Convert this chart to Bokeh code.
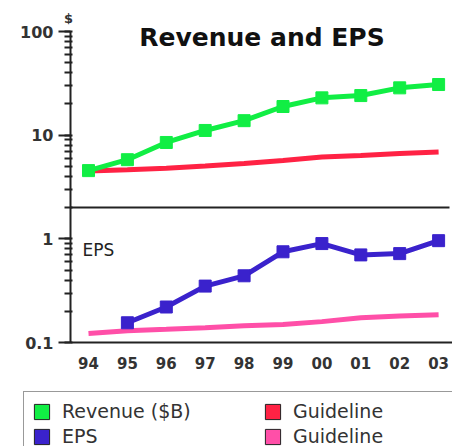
import numpy as np
from bokeh.plotting import figure
from bokeh.models import (Range1d, FixedTicker, Label, Legend, LegendItem,
                          ColumnDataSource, LogTicker, LinearAxis)
from bokeh.embed import file_html
from bokeh.resources import INLINE

# ---- data ----
years = ["94", "95", "96", "97", "98", "99", "00", "01", "02", "03"]
revenue = [4.55, 5.8, 8.5, 11.1, 13.8, 18.9, 22.9, 24.1, 28.6, 30.8]
rev_guide = [4.5, 4.63, 4.79, 5.04, 5.33, 5.7, 6.16, 6.38, 6.67, 6.87]
eps = [np.nan, 0.155, 0.22, 0.35, 0.44, 0.75, 0.9, 0.70, 0.72, 0.96]
eps_guide = [0.122, 0.13, 0.134, 0.139, 0.145, 0.149, 0.159, 0.173, 0.18, 0.185]
legend_labels = ["Revenue ($B)", "EPS", "Guideline", "Guideline"]

GREEN = "#11ee44"
RED = "#ff2244"
BLUE = "#3a22cc"
PINK = "#ff4fa8"
FONT = "DejaVu Sans"

x = list(range(len(years)))

W, H = 452, 446
PX_PER_X = 38.9          # px per year
X0 = -88 / PX_PER_X      # range start so that '94' sits 88px from the left
X1 = X0 + W / PX_PER_X
DEC = 311 / 3            # px per decade
Y1 = 10 ** (2 + 31 / DEC)
Y0 = 10 ** (-1 - (H - 342) / DEC)
AX_X = X0 + 70 / PX_PER_X   # where the value axis stands

p = figure(width=W, height=H, output_backend="svg", toolbar_location=None,
           y_axis_type="log",
           x_range=Range1d(X0, X1), y_range=Range1d(Y0, Y1),
           min_border=0, min_border_left=0, min_border_right=0,
           min_border_top=0, min_border_bottom=0)
p.outline_line_color = None
p.xgrid.visible = False
p.ygrid.visible = False
p.background_fill_color = "white"
p.border_fill_color = "white"

src = ColumnDataSource(dict(x=x, rev=revenue, rg=rev_guide, eps=eps, eg=eps_guide))

p.line("x", "rg", source=src, line_color=RED, line_width=5)
p.line("x", "rev", source=src, line_color=GREEN, line_width=5)
p.scatter("x", "rev", source=src, marker="square", size=12, fill_color=GREEN, line_color=GREEN)
p.line("x", "eg", source=src, line_color=PINK, line_width=5)
p.line("x", "eps", source=src, line_color=BLUE, line_width=5)
p.scatter("x", "eps", source=src, marker="square", size=12, fill_color=BLUE, line_color=BLUE)

# x axis, fixed at 0.1
xa = p.xaxis[0]
xa.fixed_location = 0.1
xa.bounds = (AX_X, X1)
xa.ticker = FixedTicker(ticks=x)
xa.major_label_overrides = {i: years[i] for i in x}
xa.major_tick_out = 0
xa.major_tick_in = 0
xa.minor_tick_out = 0
xa.minor_tick_in = 0
xa.axis_line_width = 2
xa.axis_line_color = "#222222"
xa.major_label_text_font = FONT
xa.major_label_text_font_style = "bold"
xa.major_label_text_font_size = "15px"
xa.major_label_text_color = "#333333"
xa.major_label_standoff = 14

# separator between the two panels (axis line only)
sep = LinearAxis(fixed_location=2, bounds=(AX_X, X0 + 449 / PX_PER_X),
                 ticker=FixedTicker(ticks=[]), axis_line_width=2,
                 axis_line_color="#222222", major_tick_out=0, major_tick_in=0,
                 minor_tick_out=0, minor_tick_in=0, major_label_text_alpha=0)
p.add_layout(sep, "below")

# y axis, fixed at the left
ya = p.yaxis[0]
ya.fixed_location = AX_X
ya.ticker = LogTicker(num_minor_ticks=10)
ya.bounds = (0.1, 100)
ya.major_label_overrides = {0.1: "0.1", 1: "1", 10: "10", 100: "100"}
ya.axis_line_width = 2
ya.axis_line_color = "#222222"
ya.major_tick_out = 12
ya.major_tick_in = 0
ya.major_tick_line_width = 2
ya.major_tick_line_color = "#222222"
ya.minor_tick_out = 6
ya.minor_tick_in = 2
ya.minor_tick_line_width = 2
ya.minor_tick_line_color = "#222222"
ya.major_label_text_font = FONT
ya.major_label_text_font_style = "bold"
ya.major_label_text_font_size = "16px"
ya.major_label_text_color = "#333333"
ya.major_label_standoff = 5

# texts
p.add_layout(Label(x=261.5, y=H - 37, x_units="screen", y_units="screen",
                   text="Revenue and EPS", text_align="center", text_baseline="alphabetic",
                   text_font=FONT, text_font_style="bold", text_font_size="25px",
                   text_color="#111111"))
p.add_layout(Label(x=68, y=H - 18, x_units="screen", y_units="screen",
                   text="$", text_align="center", text_baseline="alphabetic",
                   text_font=FONT, text_font_style="bold", text_font_size="13px",
                   text_color="#333333"))
p.add_layout(Label(x=82, y=H - 249, x_units="screen", y_units="screen",
                   text="EPS", text_align="left", text_baseline="alphabetic",
                   text_font=FONT, text_font_size="17px", text_color="#222222"))

# legend swatches (hidden renderers used only as legend glyphs)
sw = []
for c in [GREEN, BLUE, RED, PINK]:
    r = p.quad(left=[0], right=[1], bottom=[1], top=[2], fill_color=c,
               line_color="#222222", line_width=1)
    r.visible = False
    sw.append(r)

items = [LegendItem(label=legend_labels[i], renderers=[sw[i]]) for i in range(4)]
leg = Legend(items=items, location=(23, -10), orientation="vertical", ncols=2,
             glyph_width=19, glyph_height=19, label_height=19, label_width=198,
             label_standoff=11, spacing=3, padding=8, margin=0,
             label_text_font=FONT, label_text_font_size="19px", label_text_color="#333333",
             border_line_color="#333333", border_line_width=1.5,
             background_fill_color="white", background_fill_alpha=1)
p.add_layout(leg, "center")

open("out.html", "w").write(file_html(p, INLINE))
